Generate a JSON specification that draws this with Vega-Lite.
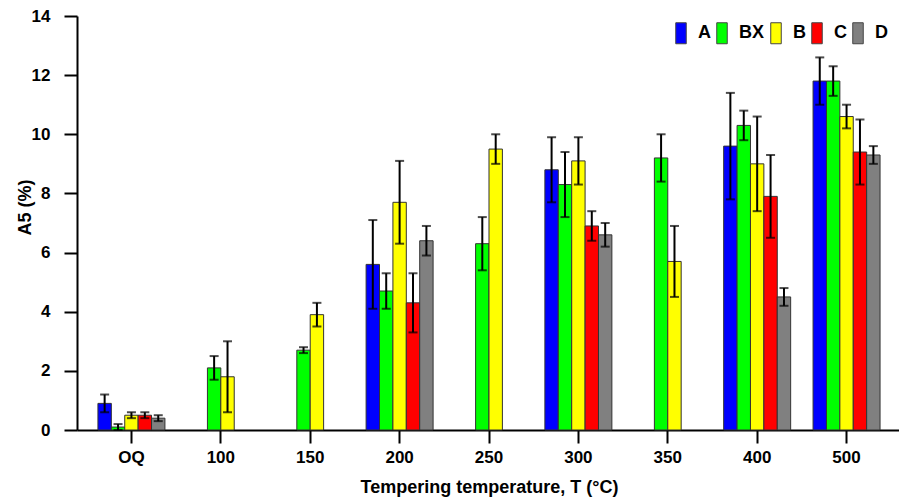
{
  "$schema": "https://vega.github.io/schema/vega-lite/v6.json",
  "width": 824,
  "height": 414,
  "autosize": "none",
  "padding": {"left": 77, "top": 16, "right": 0, "bottom": 68},
  "config": {
    "font": "Liberation Sans",
    "view": {"stroke": null},
    "axis": {"grid": false, "domainColor": "black", "domainWidth": 2, "tickColor": "black", "tickWidth": 2, "labelColor": "black", "titleColor": "black", "labelFontWeight": "bold", "titleFontWeight": "bold", "labelFontSize": 17, "titleFontSize": 18}
  },
  "data": {"values": [
    {"T": "OQ", "series": "A", "value": 0.9, "lo": 0.6, "hi": 1.2},
    {"T": "OQ", "series": "BX", "value": 0.1, "lo": 0.0, "hi": 0.2},
    {"T": "OQ", "series": "B", "value": 0.5, "lo": 0.4, "hi": 0.6},
    {"T": "OQ", "series": "C", "value": 0.5, "lo": 0.4, "hi": 0.6},
    {"T": "OQ", "series": "D", "value": 0.4, "lo": 0.3, "hi": 0.5},
    {"T": "100", "series": "BX", "value": 2.1, "lo": 1.7, "hi": 2.5},
    {"T": "100", "series": "B", "value": 1.8, "lo": 0.6, "hi": 3.0},
    {"T": "150", "series": "BX", "value": 2.7, "lo": 2.6, "hi": 2.8},
    {"T": "150", "series": "B", "value": 3.9, "lo": 3.5, "hi": 4.3},
    {"T": "200", "series": "A", "value": 5.6, "lo": 4.1, "hi": 7.1},
    {"T": "200", "series": "BX", "value": 4.7, "lo": 4.1, "hi": 5.3},
    {"T": "200", "series": "B", "value": 7.7, "lo": 6.3, "hi": 9.1},
    {"T": "200", "series": "C", "value": 4.3, "lo": 3.3, "hi": 5.3},
    {"T": "200", "series": "D", "value": 6.4, "lo": 5.9, "hi": 6.9},
    {"T": "250", "series": "BX", "value": 6.3, "lo": 5.4, "hi": 7.2},
    {"T": "250", "series": "B", "value": 9.5, "lo": 9.0, "hi": 10.0},
    {"T": "300", "series": "A", "value": 8.8, "lo": 7.7, "hi": 9.9},
    {"T": "300", "series": "BX", "value": 8.3, "lo": 7.2, "hi": 9.4},
    {"T": "300", "series": "B", "value": 9.1, "lo": 8.3, "hi": 9.9},
    {"T": "300", "series": "C", "value": 6.9, "lo": 6.4, "hi": 7.4},
    {"T": "300", "series": "D", "value": 6.6, "lo": 6.2, "hi": 7.0},
    {"T": "350", "series": "BX", "value": 9.2, "lo": 8.4, "hi": 10.0},
    {"T": "350", "series": "B", "value": 5.7, "lo": 4.5, "hi": 6.9},
    {"T": "400", "series": "A", "value": 9.6, "lo": 7.8, "hi": 11.4},
    {"T": "400", "series": "BX", "value": 10.3, "lo": 9.8, "hi": 10.8},
    {"T": "400", "series": "B", "value": 9.0, "lo": 7.4, "hi": 10.6},
    {"T": "400", "series": "C", "value": 7.9, "lo": 6.5, "hi": 9.3},
    {"T": "400", "series": "D", "value": 4.5, "lo": 4.2, "hi": 4.8},
    {"T": "500", "series": "A", "value": 11.8, "lo": 11.0, "hi": 12.6},
    {"T": "500", "series": "BX", "value": 11.8, "lo": 11.3, "hi": 12.3},
    {"T": "500", "series": "B", "value": 10.6, "lo": 10.2, "hi": 11.0},
    {"T": "500", "series": "C", "value": 9.4, "lo": 8.3, "hi": 10.5},
    {"T": "500", "series": "D", "value": 9.3, "lo": 9.0, "hi": 9.6}
  ]},
  "transform": [
    {"calculate": "indexof(['A','BX','B','C','D'], datum.series)", "as": "si"},
    {"window": [{"op": "row_number", "as": "k"}], "groupby": ["T"], "sort": [{"field": "si"}]},
    {"joinaggregate": [{"op": "count", "as": "n"}], "groupby": ["T"]},
    {"calculate": "datum.k - (datum.n + 1) / 2", "as": "slot"}
  ],
  "encoding": {
    "x": {
      "field": "T", "type": "nominal",
      "sort": ["OQ", "100", "150", "200", "250", "300", "350", "400", "500"],
      "scale": {"paddingInner": 0.25, "paddingOuter": 0.234},
      "axis": {"labelAngle": 0, "tickSize": 13, "labelPadding": 6, "title": "Tempering temperature, T (°C)", "titlePadding": 13}
    },
    "xOffset": {"field": "slot", "type": "quantitative", "scale": {"domain": [-2, 2], "range": [6.72, 60.32]}}
  },
  "layer": [
    {
      "mark": {"type": "bar", "width": 13.4, "stroke": "#333333", "strokeWidth": 1},
      "encoding": {
        "y": {
          "field": "value", "type": "quantitative",
          "scale": {"domain": [0, 14], "nice": false},
          "axis": {
            "values": [0, 1, 2, 3, 4, 5, 6, 7, 8, 9, 10, 11, 12, 13, 14],
            "labelExpr": "datum.value % 2 ? '' : datum.label",
            "tickSize": {"condition": {"test": "datum.value % 2 === 0", "value": 13}, "value": 6},
            "labelPadding": 14,
            "title": "A5 (%)",
            "titlePadding": -3,
            "titleY": 191
          }
        },
        "color": {
          "field": "series", "type": "nominal",
          "scale": {"domain": ["A", "BX", "B", "C", "D"], "range": ["#0000FF", "#00FF00", "#FFFF00", "#FF0000", "#808080"]},
          "legend": {
            "orient": "none", "legendX": 593, "legendY": 6, "direction": "horizontal", "title": null,
            "symbolType": "M-0.5,-1H0.5V1H-0.5Z", "symbolSize": 441, "symbolStrokeColor": "#444444", "symbolStrokeWidth": 1,
            "labelFontSize": 18, "labelFontWeight": "bold", "labelColor": "black", "labelOffset": 6, "columnPadding": -3, "padding": 0
          }
        }
      }
    },
    {
      "mark": {"type": "rule", "strokeWidth": 2, "color": "black"},
      "encoding": {"y": {"field": "lo", "type": "quantitative"}, "y2": {"field": "hi"}}
    },
    {
      "mark": {"type": "tick", "size": 9, "thickness": 2, "color": "black"},
      "encoding": {"y": {"field": "lo", "type": "quantitative"}}
    },
    {
      "mark": {"type": "tick", "size": 9, "thickness": 2, "color": "black"},
      "encoding": {"y": {"field": "hi", "type": "quantitative"}}
    }
  ]
}
